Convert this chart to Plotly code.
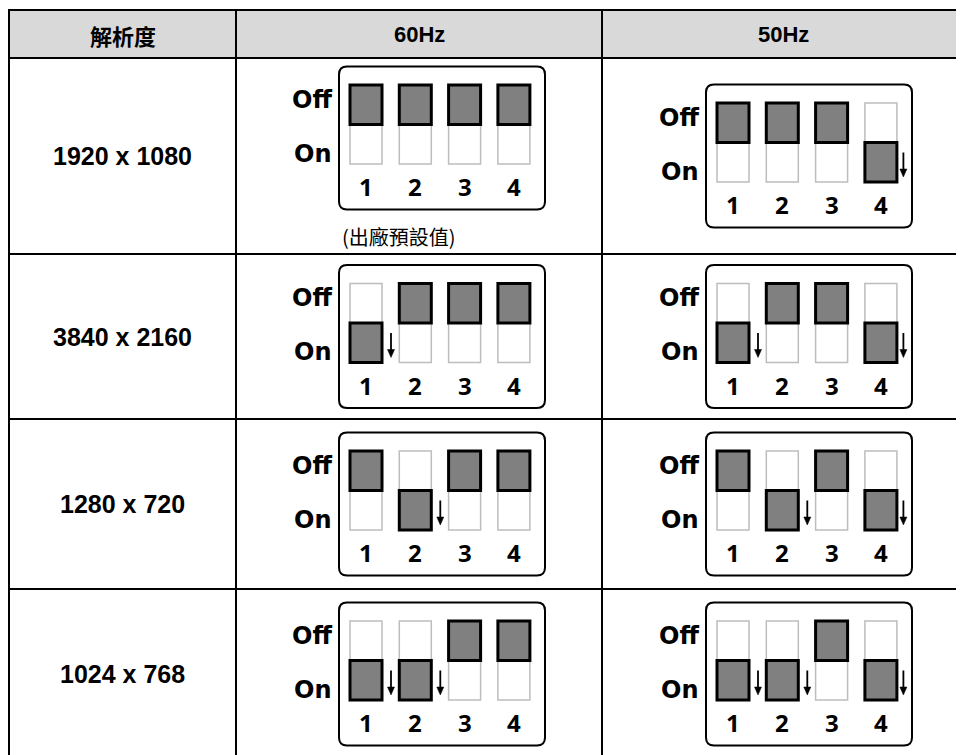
import plotly.graph_objects as go

# ---------------- data ----------------
headers = ["解析度", "60Hz", "50Hz"]
resolutions = ["1920 x 1080", "3840 x 2160", "1280 x 720", "1024 x 768"]
switch_numbers = ["1", "2", "3", "4"]
state_labels = ["Off", "On"]
dip_60hz = [["Off", "Off", "Off", "Off"],
            ["On", "Off", "Off", "Off"],
            ["Off", "On", "Off", "Off"],
            ["On", "On", "Off", "Off"]]
dip_50hz = [["Off", "Off", "Off", "On"],
            ["On", "Off", "Off", "On"],
            ["Off", "On", "Off", "On"],
            ["On", "On", "Off", "On"]]
default_note = "(出廠預設值)"

# ---------------- layout geometry (screen pixels) ----------------
W, H = 964, 755
PAGE_MARGIN = 8  # default body margin of the html page
col_edges = [9, 236, 602, 975]
row_edges = [10, 58, 254, 419, 589, 759]
box_left = {1: 339, 2: 706}
BOX_W, BOX_H, BOX_R = 206, 143, 8
SLOT_X0, SLOT_DX, SLOT_W = 11, 49.3, 32
SLOT_Y0, SLOT_H = 18.5, 79

LINE = dict(color="black", width=2)
shapes = []
annotations = []

# header background
shapes.append(dict(type="rect", x0=col_edges[0], x1=col_edges[-1], y0=row_edges[0], y1=row_edges[1],
                   fillcolor="#d9d9d9", line=dict(width=0), layer="below"))
for y in row_edges:
    shapes.append(dict(type="line", x0=col_edges[0] - 1, x1=col_edges[-1], y0=y, y1=y, line=LINE))
for x in col_edges:
    shapes.append(dict(type="line", x0=x, x1=x, y0=row_edges[0] - 1, y1=row_edges[-1], line=LINE))

LAT_HDR = dict(family="Liberation Sans, Arial", size=22, color="black", weight=700)
CJK_HDR = dict(family="Noto Sans CJK TC", size=22, color="black", weight=700)
ROW_FONT = dict(family="Liberation Sans, Arial", size=25, color="black", weight=700)

for c, h in enumerate(headers):
    right = min(col_edges[c + 1], W)
    is_cjk = any(ord(ch) > 127 for ch in h)
    annotations.append(dict(x=(col_edges[c] + right) / 2, y=(row_edges[0] + row_edges[1]) / 2 + 0.5,
                            text=h, showarrow=False, font=CJK_HDR if is_cjk else LAT_HDR,
                            xanchor="center", yanchor="middle"))

for r, res in enumerate(resolutions):
    annotations.append(dict(x=(col_edges[0] + col_edges[1]) / 2, y=(row_edges[r + 1] + row_edges[r + 2]) / 2,
                            text=res, showarrow=False, font=ROW_FONT, xanchor="center", yanchor="middle"))


def rounded_rect(x0, y0, x1, y1, r):
    return (f"M {x0 + r},{y0} L {x1 - r},{y0} Q {x1},{y0} {x1},{y0 + r} "
            f"L {x1},{y1 - r} Q {x1},{y1} {x1 - r},{y1} L {x0 + r},{y1} "
            f"Q {x0},{y1} {x0},{y1 - r} L {x0},{y0 + r} Q {x0},{y0} {x0 + r},{y0} Z")


STATE_FONT = dict(family="DejaVu Sans", size=24, color="black", weight=700)
NUM_FONT = dict(family="Open Sans, DejaVu Sans", size=24, color="black", weight=700)


def draw_dip(L, T, states):
    shapes.append(dict(type="path", path=rounded_rect(L, T, L + BOX_W, T + BOX_H, BOX_R),
                       line=dict(color="black", width=2), fillcolor="white"))
    annotations.append(dict(x=L - 5, y=T + 33, text=state_labels[0], showarrow=False, font=STATE_FONT,
                            xanchor="right", yanchor="middle"))
    annotations.append(dict(x=L - 5, y=T + 87, text=state_labels[1], showarrow=False, font=STATE_FONT,
                            xanchor="right", yanchor="middle"))
    for i, st in enumerate(states):
        sx0 = L + SLOT_X0 + i * SLOT_DX
        sx1 = sx0 + SLOT_W
        sy0 = T + SLOT_Y0
        sy1 = sy0 + SLOT_H
        sym = (sy0 + sy1) / 2
        shapes.append(dict(type="rect", x0=sx0, x1=sx1, y0=sy0, y1=sy1,
                           line=dict(color="#bdbdbd", width=1.5), fillcolor="white"))
        by0, by1 = (sy0, sym) if st == "Off" else (sym, sy1)
        shapes.append(dict(type="rect", x0=sx0, x1=sx1, y0=by0, y1=by1,
                           line=dict(color="black", width=3), fillcolor="#808080"))
        if st == "On":
            ax = sx1 + (9 if i < len(states) - 1 else 6.5)
            ay0, ay1 = by0 + 10, by1 - 5
            shapes.append(dict(type="line", x0=ax, x1=ax, y0=ay0, y1=ay1 - 5,
                               line=dict(color="black", width=1.8)))
            shapes.append(dict(type="path", path=f"M {ax - 3.5},{ay1 - 8} L {ax + 3.5},{ay1 - 8} L {ax},{ay1} Z",
                               fillcolor="black", line=dict(color="black", width=0.5)))
        annotations.append(dict(x=(sx0 + sx1) / 2, y=T + 120, text=switch_numbers[i], showarrow=False,
                                font=NUM_FONT, xanchor="center", yanchor="middle"))


for r in range(len(resolutions)):
    row_mid = (row_edges[r + 1] + row_edges[r + 2]) / 2
    T = row_mid - BOX_H / 2
    T60 = T - 18 if r == 0 else T
    draw_dip(box_left[1], T60, dip_60hz[r])
    draw_dip(box_left[2], T, dip_50hz[r])
    if r == 0:
        annotations.append(dict(x=box_left[1] + 1, y=T60 + BOX_H + 27, text=default_note, showarrow=False,
                                font=dict(family="Noto Sans CJK TC", size=20, color="black"),
                                xanchor="left", yanchor="middle"))

fig = go.Figure()
fig.add_trace(go.Scatter(x=[PAGE_MARGIN, W], y=[PAGE_MARGIN, H], mode="markers", marker=dict(opacity=0),
                         hoverinfo="skip", showlegend=False))
fig.update_layout(width=W - PAGE_MARGIN, height=H - PAGE_MARGIN, margin=dict(l=0, r=0, t=0, b=0),
                  paper_bgcolor="white", plot_bgcolor="white",
                  xaxis=dict(range=[PAGE_MARGIN, W], visible=False, fixedrange=True),
                  yaxis=dict(range=[H, PAGE_MARGIN], visible=False, fixedrange=True),
                  shapes=shapes, annotations=annotations, showlegend=False)
fig.write_html("out.html")
